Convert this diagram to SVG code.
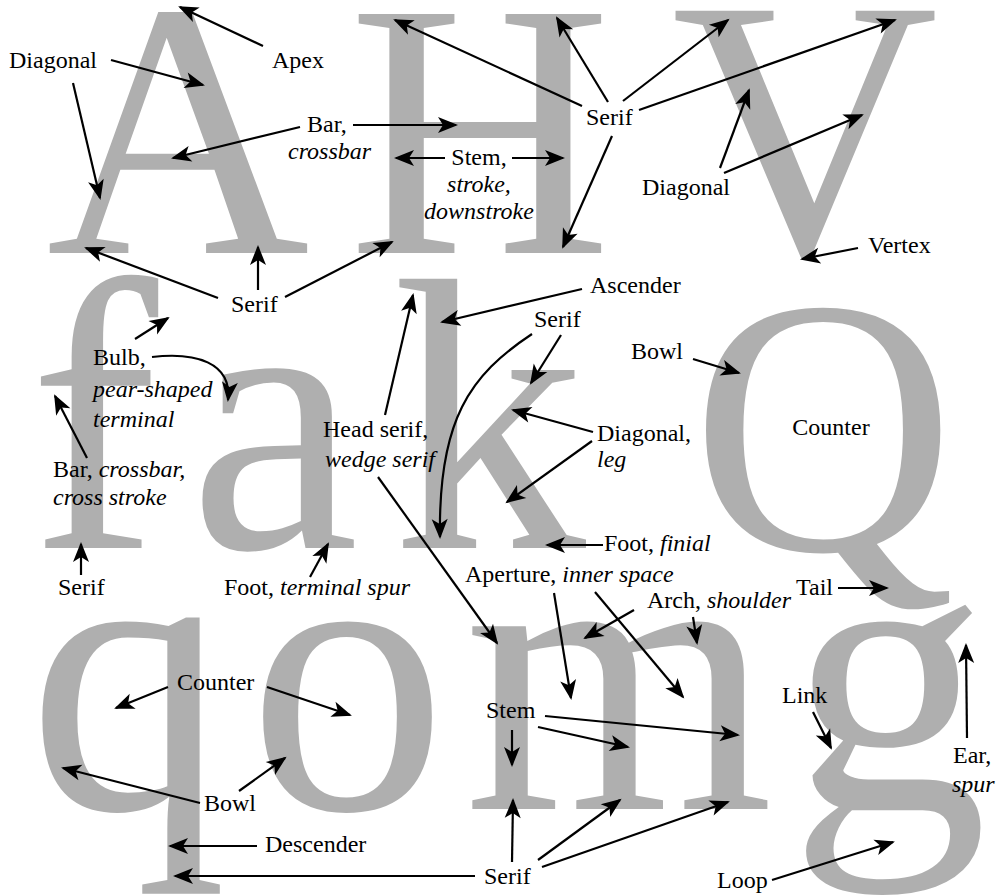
<svg xmlns="http://www.w3.org/2000/svg" width="996" height="896" viewBox="0 0 996 896">
<defs>
<style>
.g{font-family:"Liberation Serif",serif;fill:#afafaf}
.t{font-family:"Liberation Serif",serif;font-size:24px;fill:#000}
.i{font-style:italic}
.c path{fill:none;stroke:#000;stroke-width:2.2;marker-end:url(#ah)}
</style>
<marker id="ah" markerUnits="userSpaceOnUse" viewBox="-19 -9 22 18" refX="0" refY="0" markerWidth="22" markerHeight="18" orient="auto">
<path d="M2,0 L-18,-8 L-13,0 L-18,8 Z" fill="#000"/>
</marker>
</defs>
<rect width="996" height="896" fill="#fff"/>
<g id="letters">
<g id="glyph-A"><text class="g" x="178" y="253" font-size="365" text-anchor="middle">A</text></g>
<g id="glyph-H"><text class="g" x="480" y="253" font-size="365" text-anchor="middle">H</text></g>
<g id="glyph-V"><text class="g" x="805" y="253" font-size="370" text-anchor="middle">V</text></g>
<g id="glyph-f"><text class="g" x="29" y="548" font-size="388">f</text></g>
<g id="glyph-a"><text class="g" x="189" y="548" font-size="383">a</text></g>
<g id="glyph-k"><text class="g" x="392" y="548" font-size="388">k</text></g>
<g id="glyph-Q"><text class="g" x="691" y="550" font-size="366">Q</text></g>
<g id="glyph-q"><text class="g" x="28" y="809" font-size="398">q</text></g>
<g id="glyph-o"><text class="g" x="248" y="809" font-size="398">o</text></g>
<g id="glyph-m"><text class="g" x="464" y="809" font-size="398">m</text></g>
<g id="glyph-g"><text class="g" x="789" y="809" font-size="398">g</text></g>
</g>
<g id="connectors" class="c">
<path d="M263,46 L180,7"/>
<path d="M111,60 L203,85"/>
<path d="M73,83 L100,198"/>
<path d="M300,127 L173,158"/>
<path d="M353,125 L456,125"/>
<path d="M445,158 L396,158"/>
<path d="M512,158 L563,158"/>
<path d="M218,298 L86,248"/>
<path d="M258,290 L258,247"/>
<path d="M285,297 L392,242"/>
<path d="M582,106 L395,20"/>
<path d="M608,102 L557,18"/>
<path d="M623,101 L728,20"/>
<path d="M639,110 L895,20"/>
<path d="M612,136 L563,247"/>
<path d="M720,168 L749,90"/>
<path d="M724,173 L862,115"/>
<path d="M858,248 L802,259"/>
<path d="M135,339 L168,318"/>
<path d="M152,357 C195,352 232,362 228,400"/>
<path d="M87,458 L55,396"/>
<path d="M81,575 L81,544"/>
<path d="M310,577 L328,544"/>
<path d="M385,415 L413,295"/>
<path d="M378,477 L497,643"/>
<path d="M582,289 L442,322"/>
<path d="M561,335 L531,383"/>
<path d="M532,334 C470,375 438,420 440,537"/>
<path d="M593,432 L513,410"/>
<path d="M592,441 L507,502"/>
<path d="M603,545 L547,545"/>
<path d="M693,359 L739,373"/>
<path d="M838,588 L887,588"/>
<path d="M554,593 L571,698"/>
<path d="M595,592 L683,697"/>
<path d="M634,610 L585,638"/>
<path d="M693,617 L697,643"/>
<path d="M512,730 L512,765"/>
<path d="M538,727 L628,747"/>
<path d="M545,716 L738,735"/>
<path d="M512,862 L513,800"/>
<path d="M538,860 L620,800"/>
<path d="M542,867 L728,802"/>
<path d="M475,876 L175,876"/>
<path d="M813,712 L831,748"/>
<path d="M967,738 L966,645"/>
<path d="M772,880 L893,842"/>
<path d="M168,687 L116,708"/>
<path d="M267,687 L350,715"/>
<path d="M200,803 L63,768"/>
<path d="M239,791 L285,758"/>
<path d="M257,846 L170,846"/>
</g>
<g id="labels">
<g id="lbl-apex"><text class="t" x="272" y="68">Apex</text></g>
<g id="lbl-diagonal-a"><text class="t" x="9" y="68">Diagonal</text></g>
<g id="lbl-bar-a"><text class="t" x="307" y="132">Bar,</text><text class="t i" x="288" y="159">crossbar</text></g>
<g id="lbl-stem-h"><text class="t" x="479" y="165" text-anchor="middle">Stem,</text><text class="t i" x="479" y="192" text-anchor="middle">stroke,</text><text class="t i" x="479" y="219" text-anchor="middle">downstroke</text></g>
<g id="lbl-serif-top"><text class="t" x="586" y="125">Serif</text></g>
<g id="lbl-diagonal-v"><text class="t" x="642" y="195">Diagonal</text></g>
<g id="lbl-vertex"><text class="t" x="868" y="253">Vertex</text></g>
<g id="lbl-serif-a"><text class="t" x="231" y="312">Serif</text></g>
<g id="lbl-ascender"><text class="t" x="590" y="293">Ascender</text></g>
<g id="lbl-serif-k"><text class="t" x="534" y="327">Serif</text></g>
<g id="lbl-bowl-q"><text class="t" x="631" y="359">Bowl</text></g>
<g id="lbl-counter-q"><text class="t" x="831" y="435" text-anchor="middle">Counter</text></g>
<g id="lbl-bulb"><text class="t" x="93" y="365">Bulb,</text><text class="t i" x="93" y="397">pear-shaped</text><text class="t i" x="93" y="427">terminal</text></g>
<g id="lbl-head-serif"><text class="t" x="323" y="437">Head serif,</text><text class="t i" x="325" y="467">wedge serif</text></g>
<g id="lbl-diagonal-leg"><text class="t" x="597" y="441">Diagonal,</text><text class="t i" x="597" y="467">leg</text></g>
<g id="lbl-bar-f"><text class="t" x="53" y="477">Bar, <tspan class="i">crossbar,</tspan></text><text class="t i" x="53" y="505">cross stroke</text></g>
<g id="lbl-foot-k"><text class="t" x="604" y="551">Foot, <tspan class="i">finial</tspan></text></g>
<g id="lbl-serif-f"><text class="t" x="58" y="595">Serif</text></g>
<g id="lbl-foot-a"><text class="t" x="224" y="595">Foot, <tspan class="i">terminal spur</tspan></text></g>
<g id="lbl-aperture"><text class="t" x="465" y="582">Aperture, <tspan class="i">inner space</tspan></text></g>
<g id="lbl-tail"><text class="t" x="796" y="595">Tail</text></g>
<g id="lbl-arch"><text class="t" x="647" y="608">Arch, <tspan class="i">shoulder</tspan></text></g>
<g id="lbl-counter-qo"><text class="t" x="177" y="690">Counter</text></g>
<g id="lbl-link"><text class="t" x="782" y="703">Link</text></g>
<g id="lbl-stem-m"><text class="t" x="486" y="718">Stem</text></g>
<g id="lbl-ear"><text class="t" x="953" y="763">Ear,</text><text class="t i" x="952" y="792">spur</text></g>
<g id="lbl-bowl-qo"><text class="t" x="204" y="811">Bowl</text></g>
<g id="lbl-descender"><text class="t" x="265" y="852">Descender</text></g>
<g id="lbl-serif-m"><text class="t" x="484" y="884">Serif</text></g>
<g id="lbl-loop"><text class="t" x="717" y="888">Loop</text></g>
</g>
</svg>
